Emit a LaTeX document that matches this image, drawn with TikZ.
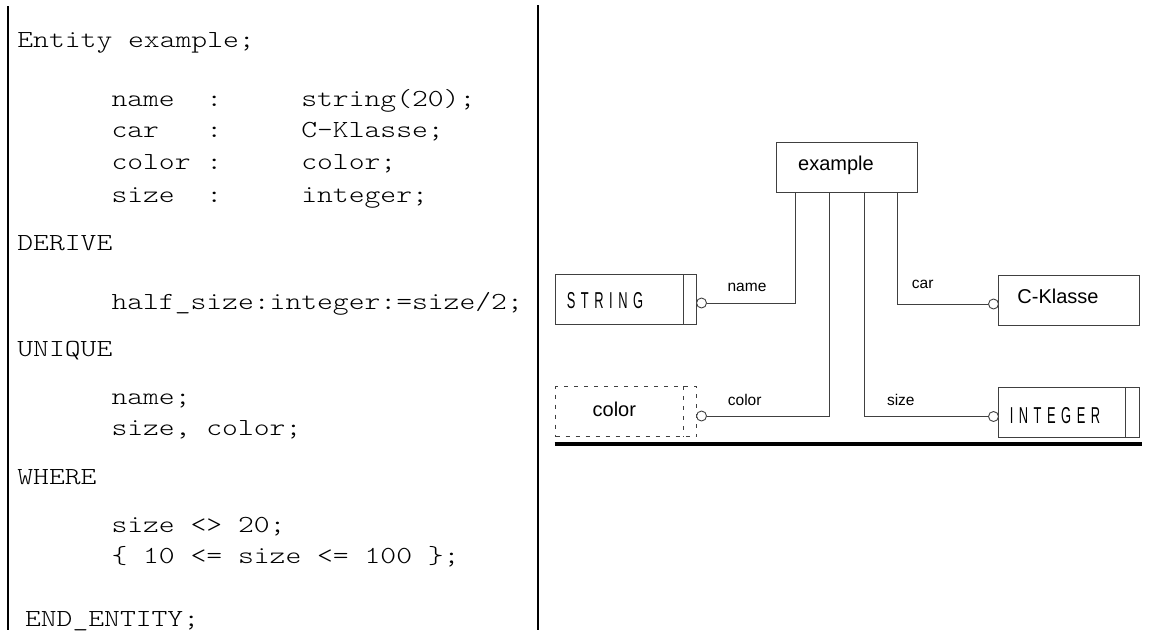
\documentclass[tikz,border=0pt]{standalone}
\usepackage{fontspec}
\setmainfont{Liberation Sans}
\newfontfamily\codefont{lmmonolt10-regular}[Extension=.otf, FakeStretch=1.23]
\newfontfamily\capsfont[FakeStretch=0.56,LetterSpace=24]{Liberation Sans}

\begin{document}
\begin{tikzpicture}[
    x=1pt, y=-1pt,
    code/.style={anchor=base west, inner sep=0pt, font=\codefont\fontsize{24.5}{24.5}\selectfont},
    entbox/.style={rectangle, draw=black!75, line width=0.9pt, minimum width=141pt, minimum height=50pt, inner sep=0pt},
    ghostbox/.style={entbox, dash pattern=on 4pt off 6pt},
    ring/.style={circle, draw=black!75, line width=0.9pt, fill=white, minimum size=10pt, inner sep=0pt},
    wire/.style={draw=black!75, line width=0.9pt},
    ename/.style={inner sep=0pt, font=\fontsize{20}{20}\selectfont},
    tname/.style={inner sep=0pt, font=\capsfont\fontsize{23}{23}\selectfont},
    role/.style={inner sep=0pt, font=\fontsize{15.5}{15.5}\selectfont}
]
\useasboundingbox (0,0) rectangle (1153,630);

% frame of the text column
\coordinate (colAtop) at (7.5,6);
\coordinate (colAbot) at (7.5,630);
\coordinate (colBtop) at (537.5,5);
\coordinate (colBbot) at (537.5,630);
\draw[line width=2pt] (colAtop) -- (colAbot);
\draw[line width=2pt] (colBtop) -- (colBbot);

% EXPRESS text
\node[code] (ent) at (17.2,47.7) {Entity example;};
\node[code] (aname) at (111.3,106) {name~~:~~~~~string(20);};
\node[code] (acar) at (111.3,137.7) {car~~~:~~~~~C-Klasse;};
\node[code] (acolor) at (111.3,169.3) {color~:~~~~~color;};
\node[code] (asize) at (111.3,202) {size~~:~~~~~integer;};
\node[code] (derive) at (17.2,250.7) {DERIVE};
\node[code] (dhalf) at (111.3,309.3) {half\_size:integer:=size/2;};
\node[code] (unique) at (17.2,356.7) {UNIQUE};
\node[code] (uname) at (111.3,404) {name;};
\node[code] (usize) at (111.3,435) {size, color;};
\node[code] (where) at (17.2,484) {WHERE};
\node[code] (wsize) at (111.3,532) {size <> 20;};
\node[code] (wrange) at (111.3,563.5) {\{ 10 <= size <= 100 \};};
\node[code] (endent) at (24.9,626) {END\_ENTITY;};

% EXPRESS-G diagram
\node[entbox] (example) at (847,167.5) {};
\node[ename] (examplet) at (836,165) {example};
\node[entbox] (STRING) at (626,299.8) {};
\node[tname] (STRINGt) at (605,300.5) {STRING};
\node[entbox] (CKlasse) at (1068.5,300) {};
\node[ename] (CKlasset) at (1058,296.7) {C-Klasse};
\node[ghostbox] (color) at (626,411.5) {};
\node[ename] (colort) at (614.3,409.3) {color};
\node[entbox] (INTEGER) at (1068.5,412.5) {};
\node[tname] (INTEGERt) at (1055,416) {INTEGER};

\draw[wire] ([xshift=-14pt]STRING.north east) -- ([xshift=-14pt]STRING.south east);
\draw[wire] ([xshift=-14pt]INTEGER.north east) -- ([xshift=-14pt]INTEGER.south east);
\draw[wire, dash pattern=on 4pt off 6pt] ([xshift=-14pt]color.north east) -- ([xshift=-14pt]color.south east);

\node[ring] (namering) at (701.5,303) {};
\node[ring] (colorring) at (701.5,416) {};
\node[ring] (carring) at (993.5,304) {};
\node[ring] (sizering) at (993.5,416.5) {};

\draw[wire] ([xshift=-52pt]example.south) |- (namering);
\draw[wire] ([xshift=-18pt]example.south) |- (colorring);
\draw[wire] ([xshift=17pt]example.south) |- (sizering);
\draw[wire] ([xshift=50pt]example.south) |- (carring);

\node[role] (namel) at (747,287.5) {name};
\node[role] (colorl) at (744.7,399.8) {color};
\node[role] (sizel) at (900.8,399.8) {size};
\node[role] (carl) at (922.7,284.8) {car};

% schema base line
\coordinate (baseL) at (554.5,444.3);
\coordinate (baseR) at (1142,444.3);
\draw[line width=4pt] (baseL) -- (baseR);
\end{tikzpicture}
\end{document}
